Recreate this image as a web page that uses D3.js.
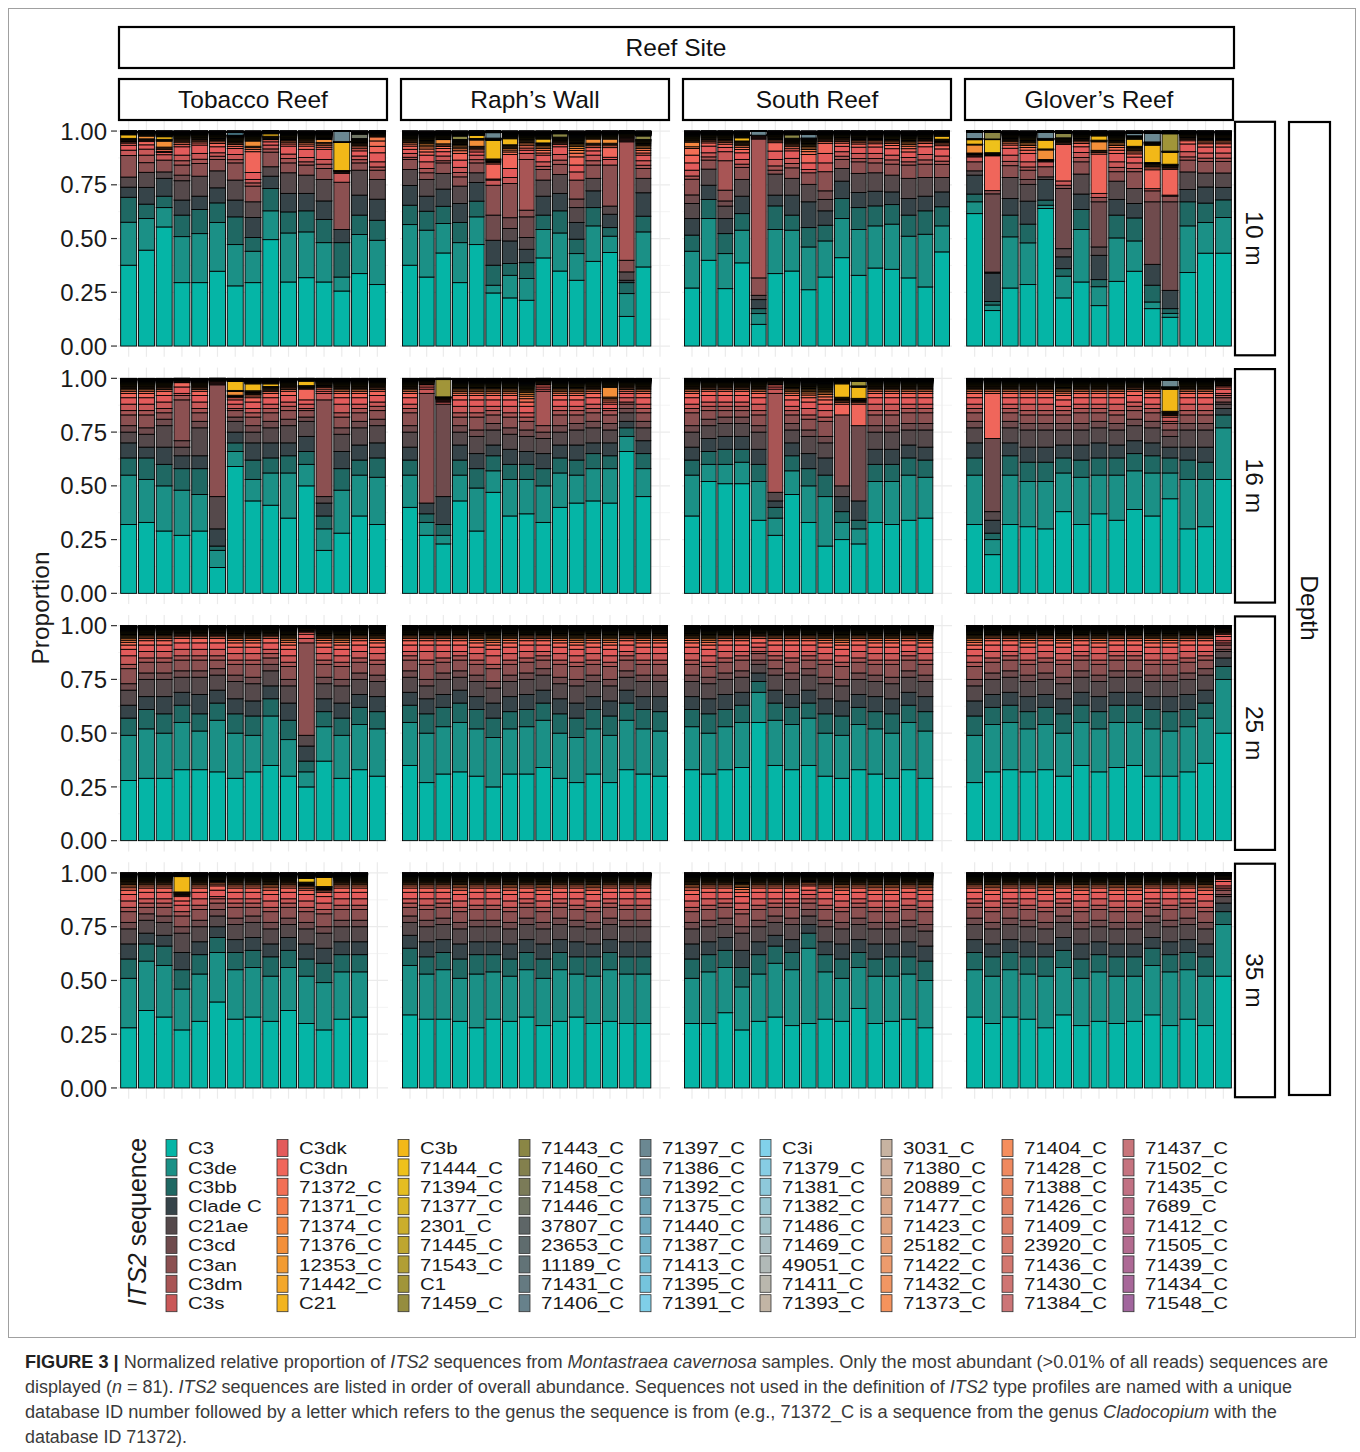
<!DOCTYPE html>
<html lang="en">
  <head>
    <meta charset="UTF-8" />
    <title>ITS2 sequence proportions by reef site and depth</title>
    <script src="https://d3js.org/d3.v7.min.js"></script>
    <style>
      body { margin: 0; background: #fff; font-family: "Liberation Sans", Arial, sans-serif; }
      .strip-text { font-size: 24.5px; fill: #111; }
      .tick-label { font-size: 24px; fill: #1a1a1a; }
      .legend-label { font-size: 17.2px; fill: #1a1a1a; }
      .caption { font-size: 17.5px; fill: #3a3a3a; }
    </style>
  </head>
  <body>
    <svg width="1360" height="1452"></svg>
    <script>
      // sequences in legend order (bottom of stack first)
      const seqNames = [
        'C3', 'C3de', 'C3bb', 'Clade C', 'C21ae', 'C3cd', 'C3an', 'C3dm', 'C3s',
        'C3dk', 'C3dn', '71372_C', '71371_C', '71374_C', '71376_C', '12353_C', '71442_C', 'C21',
        'C3b', '71444_C', '71394_C', '71377_C', '2301_C', '71445_C', '71543_C', 'C1', '71459_C',
        '71443_C', '71460_C', '71458_C', '71446_C', '37807_C', '23653_C', '11189_C', '71431_C', '71406_C',
        '71397_C', '71386_C', '71392_C', '71375_C', '71440_C', '71387_C', '71413_C', '71395_C', '71391_C',
        'C3i', '71379_C', '71381_C', '71382_C', '71486_C', '71469_C', '49051_C', '71411_C', '71393_C',
        '3031_C', '71380_C', '20889_C', '71477_C', '71423_C', '25182_C', '71422_C', '71432_C', '71373_C',
        '71404_C', '71428_C', '71388_C', '71426_C', '71409_C', '23920_C', '71436_C', '71430_C', '71384_C',
        '71437_C', '71502_C', '71435_C', '7689_C', '71412_C', '71505_C', '71439_C', '71434_C', '71548_C',
      ];
      const seqColors = [
        '#05B5A6', '#1B9086', '#1F6863', '#364449', '#55494B', '#6F4B4D', '#8B5051', '#A85555', '#C95858',
        '#E35B5B', '#F0665B', '#F26F55', '#F47B4B', '#F48540', '#F38F39', '#F29B32', '#F3A72B', '#F2B420',
        '#F2B818', '#EEC11B', '#E4BD22', '#D8B627', '#CBAE2C', '#BEA630', '#B19E35', '#A19539', '#958D3F',
        '#8A8645', '#83804D', '#7B7B58', '#707564', '#5E6667', '#5F6C6E', '#627377', '#657A81', '#67818B',
        '#6B8892', '#6C909D', '#6B97A7', '#6AA1B3', '#6DA9BE', '#6FB2C8', '#71BAD1', '#75C4DD', '#7FCFE8',
        '#81D1EA', '#87CDE4', '#8EC9DB', '#97C5D1', '#A0C2C9', '#A9BEC2', '#B1B9B7', '#BAB7AD', '#C2B5A5',
        '#C7B3A1', '#CDAD99', '#D2A990', '#D9A587', '#DFA17D', '#E69E75', '#ED9B6D', '#F19663', '#F5935D',
        '#F58E5D', '#EF895F', '#E78461', '#E18063', '#DC7D67', '#D7796B', '#D3776F', '#CF7573', '#CC7577',
        '#C8757A', '#C5737F', '#C17183', '#BD6F87', '#B96D8B', '#B36B8F', '#AD6995', '#A76799', '#A1669D',
      ];
      // relative share of the thin top slivers (sequences 71372_C .. 71548_C)
      const tailWeights = [
        12, 9, 7, 6, 5, 4, 3,
        3, 2.5, 2, 2, 1.5, 1.5, 1.2, 1.2, 1,
        1.2, 1, 1, 1, 0.8, 0.8, 0.7, 0.7, 0.6,
        0.8, 0.6, 0.6, 0.5, 0.5, 0.5, 0.4, 0.4, 0.4,
        0.4, 0.4, 0.3, 0.3, 0.3, 0.3, 0.3, 0.3, 0.3,
        0.3, 0.3, 0.3, 0.3, 0.3, 0.3, 0.3, 0.3, 0.3,
        0.3, 0.3, 0.3, 0.3, 0.3, 0.3, 0.3, 0.3, 0.3,
        0.3, 0.3, 0.3, 0.3, 0.3, 0.3, 0.3, 0.3, 0.3,
      ];

      const reefs = ['Tobacco Reef', 'Raph’s Wall', 'South Reef', 'Glover’s Reef'];
      const depths = ['10 m', '16 m', '25 m', '35 m'];
      const slotCounts = [15, 16, 16, 15];
      const yTicks = ['0.00', '0.25', '0.50', '0.75', '1.00'];

      // each bar: % of C3 C3de C3bb CladeC C21ae C3cd C3an C3dm C3s C3dk C3dn | extra sequences
      const tobacco10 = [
        '37.6 20 11.6 4.7 4.7 0 10 0 2.5 2.3 1|C3b:1.5',
        '44.6 14.7 6.7 7.8 7 0 4.5 3.5 2.8 2 1.5|71376_C:1',
        '55.4 9 5.3 8.3 3 0 5.5 0 2.5 1 0.5|71376_C:2.3,C3b:1',
        '29.5 21.4 10 7 9 2.6 4.7 2 2.6 3.9 1',
        '29.5 22.8 11.2 6.2 9.3 0 5.9 2 2.7 3.9 1',
        '34.8 22.7 9.1 7 7.9 0 5.3 1.5 1.6 2.8 1.5',
        '28 19.2 12.9 7.8 9.3 0 8 1.5 2.4 2.8 1|71391_C:1',
        '29.5 14.6 6.4 9.3 7.3 0 7.3 1.5 1.6 3.2 9.7|71376_C:1.9',
        '49.5 13.4 10.4 5.7 4.4 0 6.8 1.5 1.8 1.5 1|C3b:1',
        '29.8 22.8 9.8 8.6 9.6 0 4.6 2 2.1 3.7 1',
        '31.8 21.3 9.8 8.1 8.5 0 4.7 1.5 2 3.8 1.5',
        '29.8 18.3 10.8 8.6 10 0 5.1 2 2.2 4.7 1|71376_C:1',
        '25.6 6.5 16 6.1 0 0 22 0 4.1 0.5 0.5|C3b:13.2,71397_C:4.8',
        '33.7 18.2 9 9.3 11.6 0 3.4 1.5 1.7 2.4 1|71446_C:2',
        '28.6 20.6 9.3 9.8 9.2 0 4.3 1.5 2.4 4.2 3|71372_C:2,71371_C:1.5',
      ];
      const raphs10 = [
        '37.6 18.9 9 9.2 7.4 0 4.7 1 1.8 1.9 1.5',
        '32.1 21.8 8.8 7 7.8 0 3.1 2 3.1 3.1 1.5',
        '43.3 13.7 8 8 7.3 0 4.9 1 2.2 2 1.5|71376_C:1.5',
        '29.5 18.6 9.4 8.8 8.1 0 4.3 2 2.4 3.4 3.1|71443_C:1.5',
        '47.2 12.9 7.3 8.7 4.5 0 4.6 1.5 2.1 1.5 1|71376_C:2.6,C3b:1.2',
        '24.7 3.6 9.3 11.6 0 11.7 13.9 0 2.4 0.5 7|C3b:8.5,71397_C:2.5',
        '22.4 10.5 5.5 10.5 5.8 5 15.9 0 2.8 4.2 6.5|C3b:2.5',
        '21.3 10.1 7.4 6.2 5.5 9.6 3.1 23.6 2.8 1.5 1',
        '41 13.2 6.7 8.8 7.5 0 4.9 1.5 2.1 3.1 1|C3b:1.5',
        '34.9 17.7 10.3 8.1 8.8 0 4.7 2 2.6 3.6 1|71443_C:1.5',
        '30.6 12.4 6.7 7.8 6.9 4 8.8 0 3.8 3.2 3.8',
        '39.4 16.5 8.5 7.8 5.8 0 6.2 2 2.6 2 1.5|71376_C:1.5',
        '43.5 7.6 4 6.2 3.8 0 19.1 0 2.6 1 4.5|71376_C:1.5',
        '13.8 10.6 5.1 1.1 3.9 0 5.4 55.1 0.5 0.5 0.5',
        '36.8 16.3 7.3 10.9 6.7 0 4.6 1.5 2.1 2.6 1|71443_C:1.5',
      ];
      const south10 = [
        '27 17.1 7.5 7.7 7 4 7.3 1.5 2.7 3.4 3.6|71372_C:2,71374_C:1.5',
        '39.9 19.4 8.9 6.6 7.5 0 4.2 1.5 1.9 3.1 1.5',
        '26.7 16.3 9.3 7 5.8 2.4 5 13.7 4.2 2 1.5',
        '38.7 15.2 7.7 8.1 7.8 0 5.6 1.5 2.2 3.1 1.5|C3b:1.2',
        '10.1 5 2.3 4.2 2 0 8.1 64.6 0.5 0.5 0.5|71397_C:1.9',
        '33.7 20.5 11 5 9.8 0 1.8 2 3 3.9 3.9',
        '34.9 19 7 9.3 7.8 0 4.9 2 2.4 3.5 1|71443_C:1.5',
        '26.2 19.9 9 12 8.1 0 5.4 0 1.5 3.1 3.9|71397_C:1.5',
        '32.1 16.8 7.3 6.7 5.3 4 8.9 0 4.1 4.4 4.7',
        '41.1 18.2 9.3 8.1 5.9 0 4.2 1.5 2.1 2.5 1.5',
        '32.9 21.3 10.2 7 8.9 0 5.4 1.5 2.4 2.9 1.5',
        '36.3 19.6 9.3 6.8 8.6 0 4.6 2 2.4 3 1.5',
        '35.7 21 9.1 5.9 7.8 0 5.1 2 2.2 3 1.5',
        '31.7 19.4 9.8 7.7 9.4 0 6.2 1.5 2 2.6 1.5',
        '27.5 24.5 10.9 6.8 8.7 0 6.2 2 2.5 3.6 1.5',
        '43.8 12.1 8.9 6.9 6.7 0 6.1 1.5 2.4 3.3 1.5|C3b:1.2',
      ];
      const glovers10 = [
        '61.6 5.5 3.6 8.8 2 0 4.2 0 2.3 0.5 0.5|71376_C:3.6,C3b:2,71397_C:3',
        '16.5 2.6 1.6 13.2 0.5 36.4 1.5 0 0 0 16.2|71444_C:6,71443_C:3',
        '27 23.8 10.1 7.7 9.8 0 5.5 2 2.9 3.2 1.5',
        '28.6 19.4 8.7 10.7 7.8 2.3 4.3 1.5 2.4 3.9 1.5',
        '64 1.5 2.4 9.6 1.2 0 4.7 0 2.3 0 0|71376_C:4.2,C3b:4,71397_C:2.8',
        '22.4 10.1 3.5 5.5 3.8 28 1.5 0 2 0 17|71443_C:2',
        '29.8 24.4 9.3 7.2 9.3 0 5.7 2 2.3 2.7 1.5',
        '18.8 8.8 3.3 11.3 3.9 21 2 0 1.9 0 18.3|71376_C:3.6,C3b:1.8',
        '30.1 20.2 10.6 7.3 8.5 0 4.4 2 2.6 3.9 1.5',
        '34.8 14.1 10.7 6.7 7 0 7.8 1.5 2.6 2.7 1.5|C3b:3.1,71397_C:1',
        '17.4 3.1 7.8 9.7 0 29.1 5.1 0 1 0 8.8|C3b:7.8,71397_C:3.9',
        '13.4 1.8 2.2 8.5 0 41.2 2.6 0 0.5 0 12|C3b:5.4,C1:8',
        '34.2 21.7 11.2 5.7 8.2 0 5.5 1.5 2.4 3.6 1.5',
        '43.2 14.3 9 7.5 6.5 0 5.4 1.5 2.4 2.8 1.5',
        '43.2 16.6 8.2 5.8 6.7 0 5.4 1.5 2.4 2.8 1.5',
      ];
      const tobacco16 = [
        '32 23 8 7 5 3 5 2 3 3 2',
        '33 20 10 5 6 3 6 2 3 3 2',
        '29 21 10 8 10 3 3 2 3 3 2',
        '27 21 10 6 4 3 19 2 1 3 2',
        '29 17 12 6 13 3 4 2 3 3 2',
        '12 8 2 8 15 0 52 0 0.5 0.5 0.5',
        '59 7 4 5 5 2 3 1 2 2 1|C3b:4,71376_C:1.5',
        '43 10 9 8 5 3 4 2 2 3 2|C3b:3',
        '41 15 7 7 7 3 4 2 2 3 2|C3b:1',
        '35 21 8 6 8 3 4 2 2 3 2',
        '50 10 6 7 7 2 3 1 2 2 5|C3b:2',
        '20 10 6 6 3 0 45 0 3 1 1',
        '28 20 10 8 8 3 5 2 4 3 2',
        '36 19 7 7 8 3 4 2 2 3 2',
        '32 22 9 7 8 3 4 2 2 3 2',
      ];
      const raphs16 = [
        '40 15 7 6 7 3 6 2 2 3 2',
        '27 6 4 5 0 0 51 0 2 1 1',
        '23 4 5 13 0 43 0 0 1 0.5 0.5|C1:8',
        '43 12 7 7 6 3 4 2 3 3 2',
        '29 20 9 7 8 3 6 2 3 3 2',
        '47 10 7 5 7 3 4 2 2 3 2',
        '36 17 7 7 7 3 5 2 3 3 2',
        '37 16 7 6 7 3 4 2 2 3 2',
        '33 17 8 7 7 3 3 16 1 1 1',
        '40 16 7 6 6 3 5 2 2 3 2',
        '42 13 7 7 7 3 4 2 2 3 2',
        '43 15 7 5 7 3 4 2 2 3 2',
        '42 16 6 6 6 3 4 2 1 2 1|71376_C:4',
        '66 7 4 3 4 2 2 1 2 2 1',
        '45 13 7 6 6 3 4 2 2 3 2',
      ];
      const south16 = [
        '36 19 7 6 7 3 6 2 2 3 2',
        '52 8 6 6 6 3 4 2 2 3 2',
        '51 9 7 6 6 3 3 2 2 3 2',
        '51 10 6 6 6 3 3 2 2 3 2',
        '34 18 8 7 8 3 5 2 3 3 2',
        '27 8 5 3 4 0 0 46 2 1 1',
        '46 11 7 6 6 3 4 2 2 3 2',
        '33 17 8 7 8 3 5 2 3 3 2',
        '22 23 10 8 7 3 7 2 3 3 2',
        '25 8 5 7 5 0 33 0 0 0 5|C3b:6',
        '23 7 4 9 0 35 0 0 0 0 10|C3b:5,C1:2',
        '33 19 8 7 8 3 5 2 3 3 2',
        '32 20 8 7 8 3 5 2 3 3 2',
        '34 21 8 6 7 3 5 2 2 3 2',
        '35 19 8 6 8 3 5 2 2 3 2',
      ];
      const glovers16 = [
        '32 23 8 7 7 3 4 2 2 3 2',
        '18 7 3 6 4 34 0 0 0 0 21',
        '32 23 9 6 7 3 4 2 2 3 2',
        '31 21 9 7 8 3 4 2 3 3 2',
        '30 22 9 7 8 3 4 2 3 3 2',
        '38 18 7 6 7 3 4 2 2 3 2',
        '32 22 8 7 7 3 5 2 2 3 2',
        '37 18 8 7 7 3 4 2 2 3 2',
        '34 21 8 6 7 3 4 2 3 3 2',
        '39 18 8 6 7 3 4 2 2 3 2',
        '36 20 8 6 7 3 4 2 2 3 2',
        '44 12 7 5 5 3 3 1 2 0 0|C3b:10,71397_C:3',
        '30 23 9 6 8 3 4 2 3 3 2',
        '31 22 8 7 8 3 4 2 3 3 2',
        '53 24 6 3 2 1 2 1 1 2 1',
      ];
      const tobacco25 = [
        '28 21 8 6 7 3 7 2 4 3 2',
        '29 23 9 6 8 3 5 2 3 3 2',
        '29 21 9 8 8 3 5 2 3 3 2',
        '33 22 8 6 7 3 5 2 3 3 2',
        '33 18 8 9 8 3 5 2 3 3 2',
        '32 24 8 6 7 3 4 2 3 3 2',
        '29 21 9 7 8 3 5 2 3 3 2',
        '32 17 9 7 8 3 6 2 3 3 2',
        '35 23 8 6 7 3 3 2 2 3 2',
        '30 17 9 8 8 3 6 2 3 3 2',
        '25 7 5 7 5 0 43 0 2 2 1',
        '37 16 7 6 7 3 6 2 3 3 2',
        '29 20 8 7 8 3 6 2 3 3 2',
        '33 21 8 6 7 3 5 2 3 3 2',
        '30 22 8 7 7 3 5 2 3 3 2',
      ];
      const raphs25 = [
        '35 20 8 6 7 3 5 2 2 3 2',
        '27 23 9 7 6 3 7 2 4 3 2',
        '31 22 9 6 7 3 5 2 3 3 2',
        '32 23 9 6 6 3 5 2 2 3 2',
        '30 22 9 6 7 3 5 2 3 3 2',
        '25 23 9 7 7 3 6 2 4 3 2',
        '31 21 8 7 7 3 5 2 3 3 2',
        '31 22 8 7 7 3 5 2 3 3 2',
        '34 22 8 6 7 3 4 2 2 3 2',
        '29 21 9 7 7 3 6 2 3 3 2',
        '27 21 9 7 8 3 6 2 3 3 2',
        '31 21 9 6 7 3 5 2 3 3 2',
        '27 22 9 7 7 3 6 2 3 3 2',
        '33 23 8 6 6 3 5 2 2 3 2',
        '31 21 9 6 7 3 5 2 3 3 2',
        '30 21 9 7 7 3 5 2 3 3 2',
      ];
      const south25 = [
        '33 20 8 6 7 3 5 2 3 3 2',
        '31 19 9 7 7 3 5 2 3 3 2',
        '33 20 8 7 7 3 5 2 3 3 2',
        '34 21 8 6 7 3 5 2 2 3 2',
        '55 14 5 4 4 2 3 1 2 2 2',
        '35 21 8 6 7 3 4 2 2 3 2',
        '33 21 8 6 7 3 5 2 3 3 2',
        '35 22 7 6 7 3 4 2 2 3 2',
        '30 20 9 7 7 3 6 2 3 3 2',
        '29 20 9 7 7 3 6 2 3 3 2',
        '33 21 8 6 7 3 5 2 3 3 2',
        '31 21 8 7 7 3 5 2 3 3 2',
        '29 21 9 7 7 3 6 2 3 3 2',
        '33 22 8 6 7 3 5 2 2 3 2',
        '29 22 9 7 7 3 5 2 3 3 2',
      ];
      const glovers25 = [
        '27 22 9 7 7 3 6 2 3 3 2',
        '32 22 8 6 7 3 5 2 3 3 2',
        '33 22 8 6 7 3 5 2 2 3 2',
        '32 20 8 7 7 3 5 2 3 3 2',
        '33 21 8 6 7 3 5 2 3 3 2',
        '30 20 9 7 7 3 6 2 3 3 2',
        '35 20 8 6 7 3 5 2 2 3 2',
        '32 20 8 7 7 3 5 2 3 3 2',
        '34 21 8 6 7 3 5 2 2 3 2',
        '35 20 8 6 7 3 5 2 2 3 2',
        '30 22 9 6 7 3 5 2 3 3 2',
        '30 21 9 7 7 3 5 2 3 3 2',
        '32 21 8 7 7 3 5 2 3 3 2',
        '36 21 7 6 7 3 4 2 2 3 2',
        '50 25 6 4 3 1 2 1 1 2 1',
      ];
      const tobacco35 = [
        '28 23 9 7 7 3 5 2 3 3 2',
        '36 23 8 5 6 3 3 2 2 3 2',
        '33 24 9 5 6 3 4 2 2 3 2',
        '27 19 9 8 9 3 5 2 3 2 2|C3b:7',
        '31 22 9 6 7 3 5 2 3 3 2',
        '40 23 7 5 5 3 3 2 1 3 2',
        '32 23 8 6 7 3 5 2 2 3 2',
        '33 23 8 6 7 3 4 2 2 3 2',
        '31 21 9 6 7 3 5 2 3 3 2',
        '36 20 8 6 6 3 5 2 2 3 2',
        '30 22 8 7 7 3 5 2 3 3 2|71444_C:1.5',
        '27 22 9 7 7 3 6 2 3 3 2|C3b:4',
        '32 22 8 6 7 3 5 2 3 3 2',
        '33 21 8 6 7 3 5 2 3 3 2',
      ];
      const raphs35 = [
        '34 23 8 6 6 3 4 2 2 3 2',
        '32 21 8 7 7 3 5 2 3 3 2',
        '32 23 8 6 7 3 5 2 2 3 2',
        '31 20 9 7 7 3 5 2 3 3 2',
        '28 25 9 6 7 3 5 2 3 3 2',
        '32 22 8 6 7 3 5 2 3 3 2',
        '31 21 8 7 7 3 5 2 3 3 2',
        '33 22 8 6 7 3 5 2 2 3 2',
        '29 22 9 7 7 3 5 2 3 3 2',
        '31 24 8 6 7 3 5 2 2 3 2',
        '33 20 8 7 7 3 5 2 3 3 2',
        '30 22 9 6 7 3 5 2 3 3 2',
        '31 24 8 6 7 3 5 2 2 3 2',
        '30 23 8 7 7 3 5 2 3 3 2',
        '30 23 8 7 7 3 5 2 3 3 2',
      ];
      const south35 = [
        '30 21 9 7 7 3 5 2 3 3 2',
        '30 24 8 6 7 3 5 2 3 3 2',
        '35 21 8 6 6 3 5 2 2 3 2',
        '27 20 9 8 8 3 6 2 3 3 2',
        '31 22 9 6 7 3 5 2 3 3 2',
        '33 25 8 5 6 3 4 2 2 3 2',
        '29 26 8 6 7 3 5 2 2 3 2',
        '30 35 7 4 4 3 3 2 2 2 2',
        '32 22 8 6 7 3 5 2 3 3 2',
        '31 20 9 7 7 3 5 2 3 3 2',
        '37 19 7 6 7 3 5 2 2 3 2',
        '30 22 8 7 7 3 5 2 3 3 2',
        '31 21 9 6 7 3 5 2 3 3 2',
        '32 21 8 7 7 3 5 2 3 3 2',
        '28 22 9 7 7 3 6 2 3 3 2',
      ];
      const glovers35 = [
        '33 22 8 6 7 3 5 2 2 3 2',
        '30 22 9 6 7 3 5 2 3 3 2',
        '33 22 8 6 7 3 5 2 2 3 2',
        '32 21 8 7 7 3 5 2 3 3 2',
        '28 24 9 6 7 3 5 2 3 3 2',
        '34 22 8 6 7 3 4 2 2 3 2',
        '29 22 9 7 7 3 5 2 3 3 2',
        '31 23 8 6 7 3 5 2 3 3 2',
        '30 22 9 6 7 3 5 2 3 3 2',
        '31 21 9 6 7 3 5 2 3 3 2',
        '34 23 8 5 7 3 4 2 2 3 2',
        '29 25 8 6 7 3 5 2 3 3 2',
        '32 23 8 6 7 3 5 2 2 3 2',
        '29 23 9 6 7 3 5 2 3 3 2',
        '52 24 6 4 3 1 2 1 1 2 1',
      ];

      const panelData = [
        [tobacco10, raphs10, south10, glovers10],
        [tobacco16, raphs16, south16, glovers16],
        [tobacco25, raphs25, south25, glovers25],
        [tobacco35, raphs35, south35, glovers35],
      ];

      const tailSum = d3.sum(tailWeights);
      function parseBar(s) {
        const [main, extra] = s.split('|');
        const v = seqNames.map(() => 0);
        main.trim().split(/\s+/).forEach((t, i) => (v[i] = +t));
        if (extra) {
          extra.split(',').forEach((p) => {
            const [k, val] = p.split(':');
            v[seqNames.indexOf(k)] += +val;
          });
        }
        const rest = Math.max(0, 100 - d3.sum(v));
        tailWeights.forEach((w, j) => (v[11 + j] += (rest * w) / tailSum));
        const row = {};
        seqNames.forEach((n, i) => (row[n] = v[i] / 100));
        return row;
      }

      const svg = d3.select('svg');
      const color = d3.scaleOrdinal().domain(seqNames).range(seqColors);
      const stack = d3.stack().keys(seqNames);

      // frame
      svg.append('rect')
        .attr('x', 8.5).attr('y', 8.5).attr('width', 1347).attr('height', 1329)
        .attr('fill', 'none').attr('stroke', '#a0a0a0').attr('stroke-width', 1);

      const colLeft = [118, 400, 682, 964];
      const panelW = 270;
      const rowTop = [120.3, 367.6, 614.9, 862.2];
      const panelH = 236.5;

      depths.forEach((depth, ri) => {
        const y = d3.scaleLinear().domain([-0.05, 1.05]).range([rowTop[ri] + panelH, rowTop[ri]]);
        reefs.forEach((reef, ci) => {
          const n = slotCounts[ci];
          const x = d3.scaleLinear().domain([0.4, n + 0.6]).range([colLeft[ci], colLeft[ci] + panelW]);
          const g = svg.append('g');

          // grid
          d3.range(0, 1.001, 0.125).forEach((t, k) => {
            g.append('line')
              .attr('x1', colLeft[ci]).attr('x2', colLeft[ci] + panelW)
              .attr('y1', y(t)).attr('y2', y(t))
              .attr('stroke', '#ebebeb').attr('stroke-width', k % 2 ? 0.6 : 1.2);
          });
          d3.range(1, n + 1).forEach((s) => {
            g.append('line')
              .attr('x1', x(s)).attr('x2', x(s))
              .attr('y1', rowTop[ri]).attr('y2', rowTop[ri] + panelH)
              .attr('stroke', '#ebebeb').attr('stroke-width', 1.2);
          });

          const rows = panelData[ri][ci].map(parseBar);
          const series = stack(rows);
          g.selectAll('g.s')
            .data(series)
            .join('g')
            .attr('fill', (d) => color(d.key))
            .selectAll('rect')
            .data((d) => d.map((p, i) => ({ p, i })).filter((e) => e.p[1] - e.p[0] > 0))
            .join('rect')
            .attr('x', (e) => x(e.i + 1 - 0.45))
            .attr('width', (e) => x(e.i + 1 + 0.45) - x(e.i + 1 - 0.45))
            .attr('y', (e) => y(e.p[1]))
            .attr('height', (e) => y(e.p[0]) - y(e.p[1]))
            .attr('stroke', '#000')
            .attr('stroke-width', 0.9);

          // y axis on first column
          if (ci === 0) {
            yTicks.forEach((t) => {
              g.append('line')
                .attr('x1', 111).attr('x2', 117)
                .attr('y1', y(+t)).attr('y2', y(+t))
                .attr('stroke', '#333').attr('stroke-width', 1.2);
              g.append('text')
                .attr('class', 'tick-label')
                .attr('x', 107).attr('y', y(+t)).attr('dy', '0.36em')
                .attr('text-anchor', 'end')
                .text(t);
            });
          }
        });

        // depth strip
        const sx = 1235, sw = 40;
        svg.append('rect')
          .attr('x', sx).attr('y', rowTop[ri] + 1.5).attr('width', sw).attr('height', panelH - 3)
          .attr('fill', '#fff').attr('stroke', '#000').attr('stroke-width', 2.2);
        svg.append('text')
          .attr('class', 'strip-text')
          .attr('transform', `translate(${sx + sw / 2},${rowTop[ri] + panelH / 2}) rotate(90)`)
          .attr('text-anchor', 'middle').attr('dy', '0.36em')
          .text(depth);
      });

      // reef strips
      reefs.forEach((reef, ci) => {
        svg.append('rect')
          .attr('x', colLeft[ci] + 1).attr('y', 79).attr('width', panelW - 2).attr('height', 41)
          .attr('fill', '#fff').attr('stroke', '#000').attr('stroke-width', 2.2);
        svg.append('text')
          .attr('class', 'strip-text')
          .attr('x', colLeft[ci] + panelW / 2).attr('y', 99.5).attr('dy', '0.36em')
          .attr('text-anchor', 'middle')
          .text(reef);
      });
      svg.append('rect')
        .attr('x', 119).attr('y', 27).attr('width', 1115).attr('height', 41)
        .attr('fill', '#fff').attr('stroke', '#000').attr('stroke-width', 2.2);
      svg.append('text')
        .attr('class', 'strip-text')
        .attr('x', 676).attr('y', 47.5).attr('dy', '0.36em')
        .attr('text-anchor', 'middle')
        .text('Reef Site');

      svg.append('rect')
        .attr('x', 1289).attr('y', 122).attr('width', 41).attr('height', 973)
        .attr('fill', '#fff').attr('stroke', '#000').attr('stroke-width', 2.2);
      svg.append('text')
        .attr('class', 'strip-text')
        .attr('transform', 'translate(1309.5,608) rotate(90)')
        .attr('text-anchor', 'middle').attr('dy', '0.36em')
        .text('Depth');

      // y axis title
      svg.append('text')
        .attr('transform', 'translate(40,608) rotate(-90)')
        .attr('text-anchor', 'middle').attr('dy', '0.36em')
        .style('font-size', '24.5px').style('fill', '#1a1a1a')
        .text('Proportion');

      // legend (labels slightly widened so their length matches the reference)
      const keyX = [166, 277, 398, 519, 640, 760, 881, 1002, 1123];
      const legendTop = 1139.5;
      const rowStep = 19.4;
      const lg = svg.append('g');
      seqNames.forEach((name, i) => {
        const c = Math.floor(i / 9), r = i % 9;
        const ky = legendTop + r * rowStep;
        lg.append('rect')
          .attr('x', keyX[c]).attr('y', ky).attr('width', 11).attr('height', 17)
          .attr('fill', color(name)).attr('stroke', '#333').attr('stroke-width', 0.8);
        const lab = lg.append('text')
          .attr('class', 'legend-label')
          .attr('x', keyX[c] + 22).attr('y', ky + 8.5).attr('dy', '0.36em')
          .text(name);
        const w = lab.node().getComputedTextLength();
        lab.attr('textLength', w * 1.19).attr('lengthAdjust', 'spacingAndGlyphs');
      });
      const lt = svg.append('text')
        .attr('transform', 'translate(146,1222) rotate(-90)')
        .attr('text-anchor', 'middle')
        .style('font-size', '25px').style('fill', '#1a1a1a');
      lt.append('tspan').style('font-style', 'italic').text('ITS2');
      lt.append('tspan').text(' sequence');

      // caption
      const captionLines = [
        { w: 1303, parts: [['FIGURE 3 | ', 'b'], ['Normalized relative proportion of '], ['ITS2', 'i'], [' sequences from '], ['Montastraea cavernosa', 'i'], [' samples. Only the most abundant (>0.01% of all reads) sequences are']] },
        { w: 1267, parts: [['displayed ('], ['n', 'i'], [' = 81). '], ['ITS2', 'i'], [' sequences are listed in order of overall abundance. Sequences not used in the definition of '], ['ITS2', 'i'], [' type profiles are named with a unique']] },
        { w: 1252, parts: [['database ID number followed by a letter which refers to the genus the sequence is from (e.g., 71372_C is a sequence from the genus '], ['Cladocopium', 'i'], [' with the']] },
        { w: 162, parts: [['database ID 71372).']] },
      ];
      captionLines.forEach((line, k) => {
        const t = svg.append('text')
          .attr('class', 'caption')
          .attr('x', 25).attr('y', 1368 + k * 25)
          .attr('textLength', line.w).attr('lengthAdjust', 'spacingAndGlyphs');
        line.parts.forEach(([txt, st]) => {
          const sp = t.append('tspan').text(txt);
          if (st === 'i') sp.style('font-style', 'italic');
          if (st === 'b') sp.style('font-weight', 'bold').style('fill', '#222');
        });
      });
    </script>
  </body>
</html>
